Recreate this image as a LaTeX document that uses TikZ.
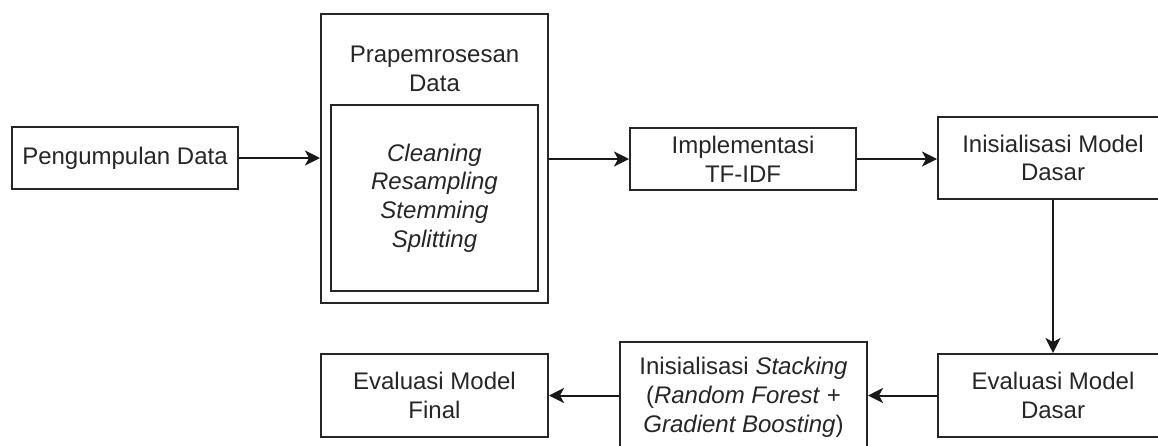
\documentclass[tikz,border=0pt]{standalone}
\usepackage{fontspec}
\setmainfont{Liberation Sans}
\usetikzlibrary{arrows.meta}
\tikzset{
  box/.style={draw=black!85, line width=2pt, fill=white, inner sep=0pt,
    align=center, font=\fontsize{24}{28.8}\selectfont, text=black!85},
  label/.style={inner sep=0pt, align=center, font=\fontsize{24}{28.8}\selectfont, text=black!85},
  flow/.style={draw=black!90, line width=2pt, -{Stealth[length=15pt, width=15pt, inset=4pt]}}
}
\begin{document}
\begin{tikzpicture}[x=1pt, y=-1pt]
  \useasboundingbox (0,0) rectangle (1158,445);
  \clip (0,0) rectangle (1158,445);
  \fill[white] (0,0) rectangle (1158,445);

  % top row
  \node[box, minimum width=226pt, minimum height=62pt] (peng) at (125,158) {Pengumpulan Data};
  \node[box, minimum width=227pt, minimum height=289pt] (prep) at (434.5,158.5) {};
  \node[label] (preptitle) at (434.5,69) {Prapemrosesan\\Data};
  \node[box, minimum width=207pt, minimum height=186pt] (steps) at (434.5,198)
    {\textit{Cleaning}\\\textit{Resampling}\\\textit{Stemming}\\\textit{Splitting}};
  \node[box, minimum width=226pt, minimum height=62pt] (tfidf) at (743,159) {Implementasi\\TF-IDF};
  \node[box, minimum width=230pt, minimum height=82pt] (init) at (1053,158) {Inisialisasi Model\\Dasar};

  % bottom row
  \node[box, minimum width=230pt, minimum height=83pt] (evald) at (1053,395.5) {Evaluasi Model\\Dasar};
  \node[box, minimum width=247pt, minimum height=110pt] (stack) at (743.5,397)
    {Inisialisasi \textit{Stacking}\\(\textit{Random Forest} +\\\textit{Gradient Boosting})};
  \node[box, minimum width=227pt, minimum height=83pt] (final) at (434.5,395.5) {Evaluasi Model\\Final};

  % connectors
  \draw[flow] (peng.east) -- (peng.east -| prep.west);
  \draw[flow] (prep.east |- tfidf.west) -- (tfidf.west);
  \draw[flow] (tfidf.east) -- (tfidf.east -| init.west);
  \draw[flow] (init.south) -- (evald.north);
  \draw[flow] (evald.west) -- (evald.west -| stack.east);
  \draw[flow] (stack.west |- final.east) -- (final.east);
\end{tikzpicture}
\end{document}
